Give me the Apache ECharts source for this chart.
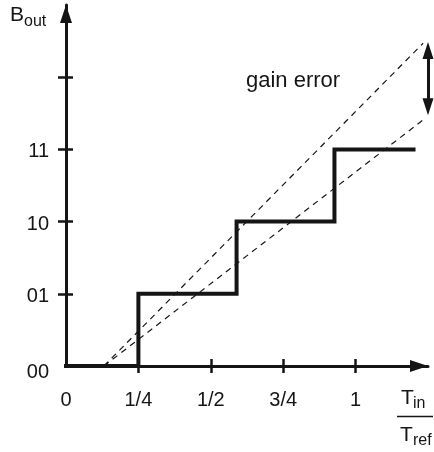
<!DOCTYPE html>
<html>
<head>
<meta charset="utf-8">
<script src="https://cdn.jsdelivr.net/npm/echarts@6/dist/echarts.min.js"></script>
<style>
html,body{margin:0;padding:0;background:#fff;}
#chart{width:434px;height:452px;}
</style>
</head>
<body>
<div id="chart"></div>
<script>
// ---- data ----
const xLabelValues = [0, 0.25, 0.5, 0.75, 1];
const xTickLabels = ['0', '1/4', '1/2', '3/4', '1'];
const xTickValues = [0.25, 0.5, 0.75, 1];
const yLabelValues = [0, 1, 2, 3];
const yTickLabels = ['00', '01', '10', '11'];
const yTickValues = [1, 2, 3, 4];
const stepX = [0, 0.25, 0.589, 0.927, 1.2];
const stepY = [0, 1, 2, 3, 3];
const dashUpperX = [0.131, 1.233];
const dashUpperY = [0, 4.47];
const dashLowerX = [0.131, 1.24];
const dashLowerY = [0, 3.43];
const gainArrowX = 1.25;
const gainArrowY = [4.37, 3.59];
const gainLabel = 'gain error';

const INK = '#151515';
const FONT = 'Liberation Sans, Arial, Helvetica, sans-serif';

const zip = (xs, ys) => xs.map((x, i) => [x, ys[i]]);

const chart = echarts.init(document.getElementById('chart'), null, {renderer: 'canvas'});

const xBase = {
  type: 'value', min: 0, max: 1.25, gridIndex: 0, position: 'bottom',
  splitLine: {show: false}
};
const yBase = {
  type: 'value', min: 0, max: 5, gridIndex: 0, position: 'left',
  splitLine: {show: false}
};

chart.setOption({
  animation: false,
  grid: {left: 66, right: 6, top: 5, bottom: 86, containLabel: false, outerBoundsMode: 'none'},
  xAxis: [
    Object.assign({}, xBase, {
      axisLine: {show: true, onZero: false, symbol: ['none', 'triangle'], symbolSize: [12, 18],
        symbolOffset: [0, -9],
        lineStyle: {color: INK, width: 3}},
      axisTick: {show: true, inside: false, length: 7, customValues: xTickValues,
        lineStyle: {color: INK, width: 2.5}},
      axisLabel: {show: true, margin: 24, customValues: xLabelValues,
        color: INK, fontSize: 20, fontFamily: FONT,
        formatter: v => xTickLabels[xLabelValues.indexOf(v)]}
    }),
    Object.assign({}, xBase, {
      axisLine: {show: false, onZero: false},
      axisTick: {show: true, inside: true, length: 7, customValues: xTickValues,
        lineStyle: {color: INK, width: 2.5}},
      axisLabel: {show: false}
    })
  ],
  yAxis: [
    Object.assign({}, yBase, {
      axisLine: {show: true, onZero: false, symbol: ['none', 'triangle'], symbolSize: [12, 18],
        symbolOffset: [0, -9],
        lineStyle: {color: INK, width: 3}},
      axisTick: {show: true, inside: false, length: 8, customValues: yTickValues,
        lineStyle: {color: INK, width: 2.5}},
      axisLabel: {show: true, margin: 17, customValues: yLabelValues,
        color: INK, fontSize: 20, fontFamily: FONT,
        formatter: v => (v === 0 ? '{z|' : '{n|') + yTickLabels[yLabelValues.indexOf(v)] + '}',
        rich: {
          z: {fontSize: 20, fontFamily: FONT, color: INK, padding: [12, 0, 0, 0]},
          n: {fontSize: 20, fontFamily: FONT, color: INK, padding: [5, 0, 0, 0]}
        }}
    }),
    Object.assign({}, yBase, {
      axisLine: {show: false, onZero: false},
      axisTick: {show: true, inside: true, length: 7, customValues: yTickValues,
        lineStyle: {color: INK, width: 2.5}},
      axisLabel: {show: false}
    })
  ],
  series: [
    {
      type: 'line', xAxisIndex: 0, yAxisIndex: 0,
      data: zip(dashUpperX, dashUpperY), symbol: 'none', clip: false,
      lineStyle: {color: INK, width: 1.2, type: [6, 5]}
    },
    {
      type: 'line', xAxisIndex: 0, yAxisIndex: 0,
      data: zip(dashLowerX, dashLowerY), symbol: 'none', clip: false,
      lineStyle: {color: INK, width: 1.2, type: [6, 5]}
    },
    {
      type: 'line', xAxisIndex: 0, yAxisIndex: 0, step: 'end',
      data: zip(stepX, stepY), symbol: 'none', clip: false,
      lineStyle: {color: INK, width: 4, cap: 'square', join: 'miter'}
    },
    {
      type: 'line', xAxisIndex: 0, yAxisIndex: 0, data: [], clip: false,
      markLine: {
        silent: true, symbol: ['triangle', 'triangle'], symbolSize: [11, 17],
        label: {show: false},
        lineStyle: {color: INK, width: 3, type: 'solid'},
        data: [[{coord: [gainArrowX, gainArrowY[0]]}, {coord: [gainArrowX, gainArrowY[1]]}]]
      }
    }
  ],
  graphic: [
    {type: 'text', left: 246, top: 70, style: {text: gainLabel, fill: INK, font: '22px ' + FONT}},
    {type: 'text', x: 10, y: 5, style: {text: 'B', fill: INK, font: '21px ' + FONT}},
    {type: 'text', x: 24, y: 14, style: {text: 'out', fill: INK, font: '16px ' + FONT}},
    {type: 'text', x: 401, y: 388, style: {text: 'T', fill: INK, font: '21px ' + FONT}},
    {type: 'text', x: 413, y: 396, style: {text: 'in', fill: INK, font: '16px ' + FONT}},
    {type: 'line', shape: {x1: 397, y1: 416.5, x2: 433, y2: 416.5}, style: {stroke: INK, lineWidth: 1.5}},
    {type: 'text', x: 400, y: 425, style: {text: 'T', fill: INK, font: '21px ' + FONT}},
    {type: 'text', x: 413, y: 433, style: {text: 'ref', fill: INK, font: '16px ' + FONT}}
  ]
});
</script>
</body>
</html>
